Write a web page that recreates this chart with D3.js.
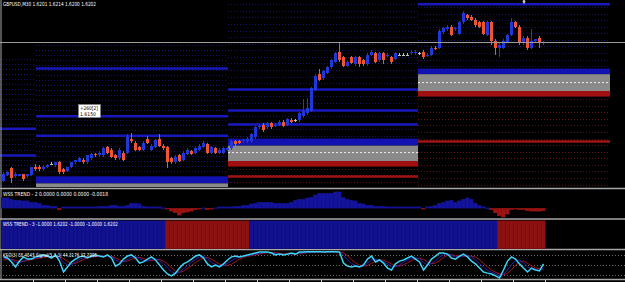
<!DOCTYPE html>
<html>
<head>
<meta charset="utf-8">
<script src="https://cdn.jsdelivr.net/npm/d3@7"></script>
<style>
body { margin: 0; background: #000; overflow: hidden; }
svg { display: block; }
text { font-family: "DejaVu Sans", sans-serif; }
</style>
</head>
<body>
<div id="chart"></div>
<script>
// GBPUSD M30 candles (price)
var opens = [1.6103,1.6107,1.6112,1.6106,1.6106,1.6108,1.6106,1.6107,1.6113,1.6113,
 1.6111,1.6113,1.6115,1.6114,1.6116,1.6111,1.6110,1.6113,1.6116,1.6116,
 1.6118,1.6116,1.6119,1.6122,1.6121,1.6121,1.6127,1.6125,1.6121,1.6119,
 1.6123,1.6123,1.6133,1.6130,1.6127,1.6125,1.6133,1.6125,1.6127,1.6133,
 1.6128,1.6127,1.6119,1.6116,1.6121,1.6118,1.6122,1.6124,1.6123,1.6125,
 1.6127,1.6129,1.6123,1.6126,1.6123,1.6123,1.6125,1.6126,1.6131,1.6131,
 1.6131,1.6131,1.6131,1.6134,1.6141,1.6143,1.6141,1.6144,1.6142,1.6143,
 1.6145,1.6143,1.6146,1.6146,1.6146,1.6149,1.6151,1.6153,1.6168,1.6179,
 1.6176,1.6180,1.6184,1.6188,1.6195,1.6191,1.6185,1.6191,1.6186,1.6191,
 1.6189,1.6186,1.6193,1.6194,1.6189,1.6194,1.6192,1.6191,1.6190,1.6193,
 1.6193,1.6193,1.6194,1.6194,1.6194,1.6195,1.6192,1.6193,1.6198,1.6198,
 1.6209,1.6211,1.6213,1.6211,1.6208,1.6216,1.6221,1.6220,1.6218,1.6216,
 1.6216,1.6207,1.6216,1.6203,1.6198,1.6198,1.6202,1.6207,1.6216,1.6213,
 1.6201,1.6205,1.6198,1.6203,1.6205,1.6201];
var highs = [1.6109,1.6110,1.6113,1.6109,1.6108,1.6108,1.6108,1.6113,1.6115,1.6114,
 1.6114,1.6115,1.6116,1.6116,1.6117,1.6112,1.6113,1.6116,1.6118,1.6120,
 1.6119,1.6121,1.6123,1.6123,1.6124,1.6127,1.6128,1.6126,1.6122,1.6126,
 1.6124,1.6136,1.6137,1.6131,1.6128,1.6131,1.6135,1.6129,1.6133,1.6136,
 1.6129,1.6128,1.6120,1.6121,1.6122,1.6124,1.6126,1.6125,1.6127,1.6129,
 1.6131,1.6130,1.6128,1.6127,1.6126,1.6127,1.6127,1.6132,1.6132,1.6132,
 1.6133,1.6134,1.6137,1.6142,1.6143,1.6144,1.6145,1.6145,1.6144,1.6146,
 1.6146,1.6148,1.6148,1.6147,1.6152,1.6161,1.6162,1.6170,1.6179,1.6183,
 1.6182,1.6185,1.6190,1.6195,1.6201,1.6192,1.6189,1.6192,1.6192,1.6192,
 1.6190,1.6194,1.6196,1.6195,1.6195,1.6195,1.6194,1.6192,1.6195,1.6194,
 1.6194,1.6194,1.6196,1.6196,1.6195,1.6196,1.6194,1.6199,1.6199,1.6211,
 1.6213,1.6214,1.6214,1.6213,1.6217,1.6224,1.6222,1.6221,1.6219,1.6217,
 1.6217,1.6217,1.6217,1.6204,1.6201,1.6204,1.6208,1.6219,1.6217,1.6214,
 1.6206,1.6206,1.6211,1.6204,1.6206,1.6203];
var lows = [1.6102,1.6106,1.6101,1.6105,1.6106,1.6103,1.6105,1.6106,1.6110,1.6110,
 1.6110,1.6112,1.6114,1.6113,1.6108,1.6108,1.6109,1.6112,1.6115,1.6116,
 1.6115,1.6115,1.6118,1.6120,1.6120,1.6120,1.6122,1.6119,1.6118,1.6118,
 1.6117,1.6122,1.6130,1.6124,1.6124,1.6124,1.6129,1.6124,1.6126,1.6127,
 1.6125,1.6112,1.6115,1.6115,1.6116,1.6117,1.6121,1.6121,1.6122,1.6124,
 1.6126,1.6122,1.6122,1.6122,1.6122,1.6122,1.6124,1.6125,1.6128,1.6129,
 1.6130,1.6130,1.6130,1.6133,1.6140,1.6138,1.6140,1.6140,1.6141,1.6142,
 1.6141,1.6142,1.6144,1.6145,1.6145,1.6148,1.6150,1.6152,1.6167,1.6174,
 1.6175,1.6179,1.6183,1.6187,1.6188,1.6184,1.6184,1.6186,1.6185,1.6184,
 1.6185,1.6185,1.6192,1.6187,1.6188,1.6186,1.6191,1.6186,1.6189,1.6192,
 1.6192,1.6192,1.6193,1.6193,1.6193,1.6190,1.6191,1.6192,1.6196,1.6197,
 1.6208,1.6210,1.6206,1.6210,1.6207,1.6215,1.6218,1.6217,1.6213,1.6212,
 1.6207,1.6206,1.6200,1.6193,1.6191,1.6197,1.6201,1.6206,1.6212,1.6200,
 1.6200,1.6196,1.6197,1.6202,1.6198,1.6200];
var closes = [1.6108,1.6109,1.6105,1.6108,1.6108,1.6104,1.6108,1.6113,1.6111,1.6111,
 1.6113,1.6114,1.6115,1.6116,1.6109,1.6109,1.6113,1.6116,1.6118,1.6119,
 1.6116,1.6121,1.6122,1.6121,1.6123,1.6126,1.6123,1.6120,1.6119,1.6125,
 1.6118,1.6134,1.6131,1.6125,1.6125,1.6130,1.6130,1.6128,1.6132,1.6128,
 1.6126,1.6116,1.6116,1.6120,1.6117,1.6123,1.6125,1.6122,1.6126,1.6128,
 1.6130,1.6123,1.6127,1.6123,1.6125,1.6126,1.6126,1.6131,1.6129,1.6130,
 1.6132,1.6133,1.6136,1.6141,1.6142,1.6139,1.6144,1.6141,1.6143,1.6145,
 1.6142,1.6147,1.6145,1.6146,1.6151,1.6153,1.6155,1.6169,1.6178,1.6175,
 1.6181,1.6184,1.6189,1.6194,1.6189,1.6185,1.6188,1.6187,1.6191,1.6186,
 1.6186,1.6193,1.6195,1.6188,1.6194,1.6189,1.6193,1.6188,1.6194,1.6193,
 1.6193,1.6193,1.6195,1.6195,1.6194,1.6191,1.6193,1.6198,1.6197,1.6210,
 1.6212,1.6213,1.6207,1.6212,1.6216,1.6223,1.6219,1.6218,1.6214,1.6213,
 1.6208,1.6216,1.6203,1.6198,1.6200,1.6203,1.6207,1.6216,1.6213,1.6201,
 1.6205,1.6198,1.6203,1.6204,1.6201,1.6202];

// daily pivot zones (bar index where each day starts / ends)
var dayStart = [-0.75, 8.25, 56.25, 103.75];
var dayEnd = [8.25, 56.25, 103.75, 151.75];
var upperLines = [[1.6140, 1.6121], [1.6183, 1.6149, 1.6135], [1.6168, 1.6153, 1.6143], [1.6229]];
var lowerLines = [[], [], [1.6106], [1.6131]];
var bandTop = [null, 1.6106, 1.6133, 1.6183];
var greyTop = [null, 1.6101, 1.6128, 1.6179];
var pivotMid = [null, 1.6095, 1.6123, 1.6173];
var greyBottom = [null, 1.6089, 1.6117, 1.6167];
var redBottom = [null, 1.6085, 1.6113, 1.6163];
var dotTop = [1.6190, 1.6200, 1.6229, 1.6227];
var dotStep = [0.00036, 0.00036, 0.00047, 0.00047];

var lastPrice = 1.6202;
var labelLevel = 1.6150;
var labelText = ["+260[2]", "1.6150"];
var titleText = "GBPUSD,M30  1.6201 1.6214 1.6200 1.6202";
var markerBar = 130.25;

// WSS TREND - 2 histogram
var trend2 = [0.0067,0.0067,0.0060,0.0053,0.0053,0.0047,0.0047,0.0040,0.0040,0.0033,
 0.0020,0.0020,0.0013,0.0013,-0.0010,0.0007,0.0007,0.0007,0.0007,0.0007,
 0.0007,0.0007,0.0010,0.0010,0.0013,0.0013,0.0013,0.0017,0.0017,0.0013,
 0.0013,0.0020,0.0033,0.0033,0.0027,0.0013,0.0010,0.0010,0.0007,0.0007,
 0.0003,-0.0007,-0.0020,-0.0033,-0.0047,-0.0033,-0.0027,-0.0020,-0.0013,-0.0007,
 0.0003,-0.0010,-0.0007,0.0003,0.0007,0.0007,0.0007,0.0010,0.0013,0.0013,
 0.0017,0.0020,0.0027,0.0033,0.0040,0.0040,0.0040,0.0040,0.0033,0.0033,
 0.0033,0.0033,0.0040,0.0053,0.0060,0.0060,0.0067,0.0073,0.0087,0.0100,
 0.0100,0.0100,0.0100,0.0107,0.0107,0.0073,0.0060,0.0053,0.0047,0.0033,
 0.0027,0.0020,0.0020,0.0013,0.0013,0.0013,0.0010,0.0010,0.0010,0.0007,
 0.0007,0.0007,0.0010,0.0010,0.0007,-0.0007,0.0010,0.0013,0.0020,0.0033,
 0.0040,0.0047,0.0053,0.0040,0.0047,0.0060,0.0067,0.0060,0.0033,0.0020,
 0.0007,0.0003,-0.0013,-0.0033,-0.0053,-0.0060,-0.0040,-0.0013,-0.0007,-0.0010,
 -0.0013,-0.0017,-0.0020,-0.0020,-0.0020,-0.0018];
var trend2Text = "WSS TREND - 2 0.0000 0.0000 0.0000 -0.0018";

// WSS TREND - 3 state runs
var trend3Dir = [1, -1, 1, -1];
var trend3Len = [41, 21, 62, 12];
var trend3Text = "WSS TREND - 3 -1.0000 1.6202 -1.0000 -1.0000 1.6202";

// KSO oscillator with two signal lines
var kso = [79,75,61,43,64,79,71,71,79,82, 86,82,75,86,64,25,43,61,71,79,
 82,75,82,86,82,79,86,75,46,54, 71,82,86,75,57,61,71,79,68,50,
 32,18,11,21,39,54,61,71,82,86, 75,54,43,50,43,54,68,79,82,79,
 82,86,89,93,96,96,96,93,86,89, 86,89,93,89,96,96,97,97,97,97,
 96,97,97,97,96,57,46,43,46,43, 50,71,82,61,68,57,39,32,54,64,
 68,75,82,71,61,32,50,71,82,93, 93,89,75,71,82,89,79,64,54,39,
 25,21,18,11,4,32,64,79,71,54, 39,25,39,32,29,54];
var ksoSignal1 = [72,74,70,60,58,65,70,72,75,78, 81,82,80,80,76,60,50,52,60,70,
 77,78,79,82,83,81,82,80,68,60, 62,70,78,80,73,66,64,70,72,66,
 55,40,26,20,25,36,48,60,70,78, 80,72,60,51,47,48,55,65,74,79,
 81,83,86,89,92,94,95,94,91,89, 88,88,90,90,92,94,95,96,97,97,
 97,97,97,97,97,84,68,55,48,45, 46,56,68,70,68,63,54,44,44,50,
 60,68,74,76,72,60,50,55,66,78, 87,90,85,80,79,83,84,78,68,55,
 42,31,24,18,12,16,32,52,66,68, 58,44,36,34,32,38];
var ksoSignal2 = [68,70,70,66,62,63,66,69,72,75, 77,79,80,80,79,72,62,56,56,62,
 70,75,78,80,82,82,82,81,76,68, 63,64,70,76,77,73,68,66,69,70,
 64,53,40,28,24,28,37,48,59,69, 76,77,71,62,53,48,48,53,62,71,
 77,81,84,86,89,92,94,95,94,92, 90,89,89,89,90,92,94,95,96,97,
 97,97,97,97,97,93,83,69,58,50, 46,48,56,64,68,67,62,54,47,46,
 51,58,66,72,74,70,61,55,57,66, 77,85,87,84,81,81,82,82,78,69,
 56,43,32,24,18,15,20,33,49,61, 64,56,47,40,36,35];
var ksoLevels = [85, 50, 15];
var ksoText = "KSO(3) 55.4545 Signal(5,3,3) 44.3176 37.7095";

var W = 625, H = 282;
var bullColor = "#2038d8", bearColor = "#ee5530", dojiColor = "#b8c8b8";
var sepColor = "#a8a8a8";

var svg = d3.select("#chart").append("svg").attr("width", W).attr("height", H);
svg.append("rect").attr("width", W).attr("height", H).attr("fill", "#000");

var x = d3.scaleLinear().domain([0, 135]).range([3, 543]);
var yP = d3.scaleLinear().domain([1.6232, 1.6032]).range([0, 280]);

svg.append("clipPath").attr("id", "mainClip")
    .append("rect").attr("x", 0).attr("y", 0).attr("width", W).attr("height", 187);

var main = svg.append("g").attr("clip-path", "url(#mainClip)");

// dotted level grid in each day
dayStart.forEach(function (s, z) {
    var x0 = z === 0 ? 0 : x(s), x1 = x(dayEnd[z]);
    var levels = d3.range(dotTop[z], 1.6095, -dotStep[z]);
    main.append("g").selectAll("line").data(levels).join("line")
        .attr("x1", x0).attr("x2", x1)
        .attr("y1", function (d) { return Math.round(yP(d)) + 0.5; })
        .attr("y2", function (d) { return Math.round(yP(d)) + 0.5; })
        .attr("stroke", function (d) {
            return (redBottom[z] !== null && d < greyBottom[z]) ? "#561414" : "#141468";
        })
        .attr("stroke-width", 1)
        .attr("stroke-dasharray", "1,2");
});

// pivot bands
dayStart.forEach(function (s, z) {
    if (bandTop[z] === null) return;
    var x0 = x(s), w = x(dayEnd[z]) - x(s);
    main.append("rect").attr("x", x0).attr("width", w)
        .attr("y", yP(bandTop[z])).attr("height", yP(greyTop[z]) - yP(bandTop[z]))
        .attr("fill", "#1212b0");
    main.append("rect").attr("x", x0).attr("width", w)
        .attr("y", yP(greyTop[z])).attr("height", yP(greyBottom[z]) - yP(greyTop[z]))
        .attr("fill", "#8a8a8a");
    main.append("rect").attr("x", x0).attr("width", w)
        .attr("y", yP(greyBottom[z])).attr("height", yP(redBottom[z]) - yP(greyBottom[z]))
        .attr("fill", "#a01010");
    main.append("line").attr("x1", x0).attr("x2", x0 + w)
        .attr("y1", yP(pivotMid[z])).attr("y2", yP(pivotMid[z]))
        .attr("stroke", "#f0f0f0").attr("stroke-width", 1).attr("stroke-dasharray", "2,2");
});

// pivot lines
dayStart.forEach(function (s, z) {
    var x0 = z === 0 ? 0 : x(s), x1 = x(dayEnd[z]);
    main.append("g").selectAll("line").data(upperLines[z]).join("line")
        .attr("x1", x0).attr("x2", x1)
        .attr("y1", function (d) { return yP(d); }).attr("y2", function (d) { return yP(d); })
        .attr("stroke", "#1818bc").attr("stroke-width", 2.5);
    main.append("g").selectAll("line").data(lowerLines[z]).join("line")
        .attr("x1", x0).attr("x2", x1)
        .attr("y1", function (d) { return yP(d); }).attr("y2", function (d) { return yP(d); })
        .attr("stroke", "#a01414").attr("stroke-width", 2.5);
});

// current price line
svg.append("line").attr("x1", 0).attr("x2", W)
    .attr("y1", Math.round(yP(lastPrice)) + 0.5).attr("y2", Math.round(yP(lastPrice)) + 0.5)
    .attr("stroke", "#9c9c9c").attr("stroke-width", 1);

// candles
function candleColor(i) {
    if (closes[i] > opens[i]) return bullColor;
    if (closes[i] < opens[i]) return bearColor;
    return dojiColor;
}
var candles = main.append("g").attr("shape-rendering", "crispEdges");
candles.selectAll("rect.wick").data(closes).join("rect")
    .attr("class", "wick")
    .attr("x", function (d, i) { return x(i); })
    .attr("width", 1)
    .attr("y", function (d, i) { return yP(highs[i]); })
    .attr("height", function (d, i) { return Math.max(1, yP(lows[i]) - yP(highs[i])); })
    .attr("fill", function (d, i) { return candleColor(i); });
candles.selectAll("rect.body").data(closes).join("rect")
    .attr("class", "body")
    .attr("x", function (d, i) { return x(i) - 1; })
    .attr("width", 3)
    .attr("y", function (d, i) { return yP(Math.max(opens[i], closes[i])); })
    .attr("height", function (d, i) { return Math.max(1, Math.abs(yP(opens[i]) - yP(closes[i]))); })
    .attr("fill", function (d, i) { return candleColor(i); });

// small marker at top
svg.append("path")
    .attr("d", d3.symbol().type(d3.symbolDiamond).size(8)())
    .attr("transform", "translate(" + x(markerBar) + ",1.5)")
    .attr("fill", "#c8c8c8");

// label box
var lb = svg.append("g").attr("transform", "translate(" + Math.round(x(18.75)) + "," + Math.round(yP(labelLevel) - 11) + ")");
lb.append("rect").attr("x", 0.5).attr("y", 0.5).attr("width", 22).attr("height", 13)
    .attr("fill", "#fff").attr("stroke", "#808080").attr("stroke-width", 0.6);
lb.selectAll("text").data(labelText).join("text")
    .attr("x", 2).attr("y", function (d, i) { return 6 + i * 6; })
    .attr("font-size", 5.2).attr("fill", "#000")
    .attr("textLength", function (d, i) { return i === 0 ? 18 : 16; })
    .attr("lengthAdjust", "spacingAndGlyphs")
    .text(function (d) { return d; });

// title
svg.append("text").attr("x", 3).attr("y", 6).attr("font-size", 5.6).attr("fill", "#fff")
    .attr("textLength", 93).attr("lengthAdjust", "spacingAndGlyphs").text(titleText);

// window separators
[188.5, 219, 249.5, 279.5].forEach(function (yy) {
    svg.append("line").attr("x1", 0).attr("x2", W).attr("y1", yy).attr("y2", yy)
        .attr("stroke", sepColor).attr("stroke-width", 1.6);
});
svg.append("line").attr("x1", 1).attr("x2", 1).attr("y1", 0).attr("y2", 280)
    .attr("stroke", sepColor).attr("stroke-width", 1);

// WSS TREND - 2
var y2 = d3.scaleLinear().domain([-0.0073, 0.0120]).range([219, 190]);
svg.append("g").attr("shape-rendering", "crispEdges").selectAll("rect").data(trend2).join("rect")
    .attr("x", function (d, i) { return x(i) - 2; })
    .attr("width", 4)
    .attr("y", function (d) { return d >= 0 ? y2(d) : y2(0); })
    .attr("height", function (d) { return Math.max(1, Math.abs(y2(d) - y2(0))); })
    .attr("fill", function (d) { return d >= 0 ? "#14149a" : "#9a1414"; })
    .attr("stroke", function (d) { return d >= 0 ? "#0c0c70" : "#700c0c"; })
    .attr("stroke-width", 0.5);
svg.append("text").attr("x", 3).attr("y", 196).attr("font-size", 5.6).attr("fill", "#fff")
    .attr("textLength", 105).attr("lengthAdjust", "spacingAndGlyphs").text(trend2Text);

// WSS TREND - 3
var trend3 = [];
trend3Dir.forEach(function (d, k) {
    for (var n = 0; n < trend3Len[k]; n++) trend3.push(d);
});
svg.append("g").attr("shape-rendering", "crispEdges").selectAll("rect").data(trend3).join("rect")
    .attr("x", function (d, i) { return x(i) - 2; })
    .attr("width", 4)
    .attr("y", 220.5).attr("height", 28)
    .attr("fill", function (d) { return d > 0 ? "#12128e" : "#8c1212"; })
    .attr("stroke", function (d) { return d > 0 ? "#0b0b6c" : "#6a0b0b"; })
    .attr("stroke-width", 0.6);
svg.append("text").attr("x", 3).attr("y", 226).attr("font-size", 5.6).attr("fill", "#fff")
    .attr("textLength", 115).attr("lengthAdjust", "spacingAndGlyphs").text(trend3Text);

// KSO
var yK = d3.scaleLinear().domain([0, 100]).range([279, 251]);
svg.append("g").selectAll("line").data(ksoLevels).join("line")
    .attr("x1", 0).attr("x2", W)
    .attr("y1", function (d) { return Math.round(yK(d)) + 0.5; })
    .attr("y2", function (d) { return Math.round(yK(d)) + 0.5; })
    .attr("stroke", "#6a6a6a").attr("stroke-dasharray", "1,2");
var kLine = d3.line().x(function (d, i) { return x(i) + 0.5; }).y(function (d) { return yK(d); });
svg.append("path").datum(ksoSignal2).attr("d", kLine).attr("fill", "none").attr("stroke", "#a01818").attr("stroke-width", 1);
svg.append("path").datum(ksoSignal1).attr("d", kLine).attr("fill", "none").attr("stroke", "#2424b4").attr("stroke-width", 1);
svg.append("path").datum(kso).attr("d", kLine).attr("fill", "none").attr("stroke", "#3cd2f4").attr("stroke-width", 1.5);
svg.append("text").attr("x", 3).attr("y", 257).attr("font-size", 5.6).attr("fill", "#fff")
    .attr("textLength", 94).attr("lengthAdjust", "spacingAndGlyphs").text(ksoText);

// time axis ticks
var tickIdx = d3.range(7.5, 140, 8);
svg.append("g").selectAll("line").data(tickIdx).join("line")
    .attr("x1", function (d) { return Math.round(x(d)) + 0.5; })
    .attr("x2", function (d) { return Math.round(x(d)) + 0.5; })
    .attr("y1", 280).attr("y2", 283)
    .attr("stroke", "#c8c8c8");
</script>
</body>
</html>
